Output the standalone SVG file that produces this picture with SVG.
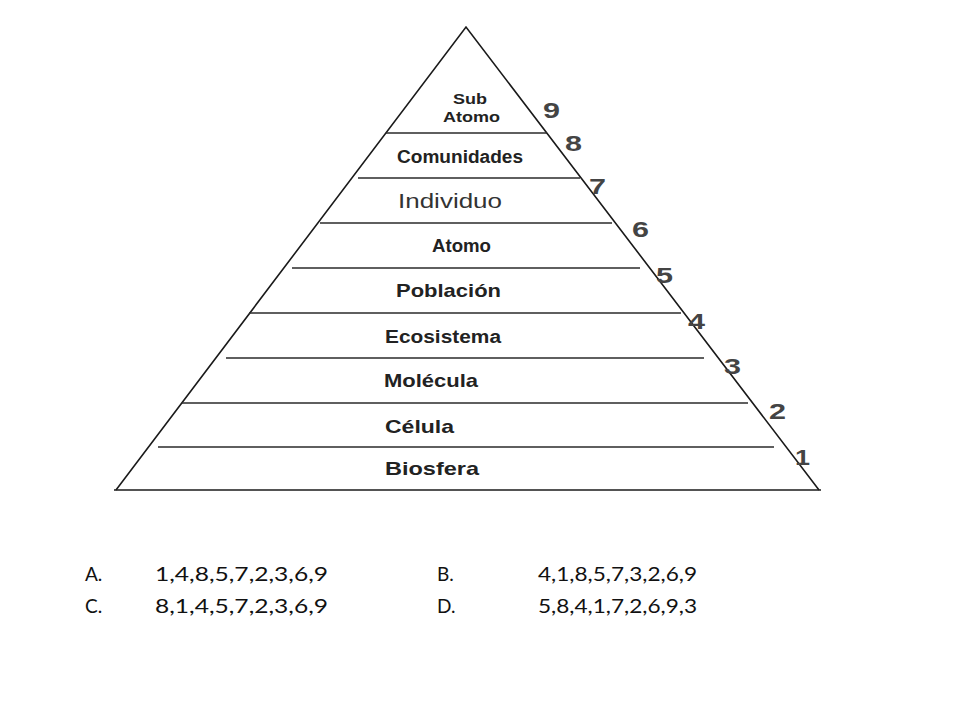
<svg xmlns="http://www.w3.org/2000/svg" width="960" height="720" viewBox="0 0 960 720">
<style>
.edge{stroke:#1a1a1a;stroke-width:1.6;fill:none}
.band{stroke:#2a2a2a;stroke-width:1.4}
.lbl{font-family:"Liberation Sans",Arial,sans-serif;font-weight:bold;fill:#222;text-anchor:start}
.num{font-family:"Liberation Sans",Arial,sans-serif;font-weight:bold;font-size:22px;fill:#444}
.ans{font-family:"Lato","Liberation Sans",sans-serif;font-size:19px;fill:#111}
</style>
<rect width="960" height="720" fill="#fff"/>
<g id="pyramid">
<polyline class="edge" points="116,490 466,27 819,490"/>
<line class="edge" x1="114" y1="490" x2="821" y2="490"/>
</g>
<g id="connectors">
<line class="band" x1="386" y1="133" x2="547" y2="133"/>
<line class="band" x1="358" y1="178" x2="580" y2="178"/>
<line class="band" x1="320" y1="223" x2="612" y2="223"/>
<line class="band" x1="292" y1="268" x2="640" y2="268"/>
<line class="band" x1="249" y1="313" x2="681" y2="313"/>
<line class="band" x1="226" y1="358" x2="704" y2="358"/>
<line class="band" x1="182" y1="403" x2="748" y2="403"/>
<line class="band" x1="158" y1="447" x2="774" y2="447"/>
</g>
<g id="n9"><text class="lbl" x="453" y="104" font-size="15" textLength="34" lengthAdjust="spacingAndGlyphs">Sub</text><text class="lbl" x="443" y="122" font-size="15" textLength="57" lengthAdjust="spacingAndGlyphs">Atomo</text></g>
<g id="n8"><text class="lbl" x="397" y="163" font-size="18" textLength="126" lengthAdjust="spacingAndGlyphs">Comunidades</text></g>
<g id="n7"><text class="lbl" x="398" y="208" font-size="21" style="font-weight:normal;fill:#333" textLength="104" lengthAdjust="spacingAndGlyphs">Individuo</text></g>
<g id="n6"><text class="lbl" x="432" y="252" font-size="18" textLength="59" lengthAdjust="spacingAndGlyphs">Atomo</text></g>
<g id="n5"><text class="lbl" x="396" y="297" font-size="19" textLength="105" lengthAdjust="spacingAndGlyphs">Población</text></g>
<g id="n4"><text class="lbl" x="385" y="343" font-size="18" textLength="116" lengthAdjust="spacingAndGlyphs">Ecosistema</text></g>
<g id="n3"><text class="lbl" x="384" y="387" font-size="19" textLength="94" lengthAdjust="spacingAndGlyphs">Molécula</text></g>
<g id="n2"><text class="lbl" x="385" y="433" font-size="19" textLength="69" lengthAdjust="spacingAndGlyphs">Célula</text></g>
<g id="n1"><text class="lbl" x="385" y="475" font-size="19" textLength="94" lengthAdjust="spacingAndGlyphs">Biosfera</text></g>
<g id="numbers">
<text class="num" x="543" y="118" textLength="17" lengthAdjust="spacingAndGlyphs">9</text>
<text class="num" x="565" y="151" textLength="17" lengthAdjust="spacingAndGlyphs">8</text>
<text class="num" x="589" y="194" textLength="17" lengthAdjust="spacingAndGlyphs">7</text>
<text class="num" x="632" y="237" textLength="17" lengthAdjust="spacingAndGlyphs">6</text>
<text class="num" x="656" y="283" textLength="17" lengthAdjust="spacingAndGlyphs">5</text>
<text class="num" x="688" y="329" textLength="17" lengthAdjust="spacingAndGlyphs">4</text>
<text class="num" x="724" y="374" textLength="17" lengthAdjust="spacingAndGlyphs">3</text>
<text class="num" x="769" y="419" textLength="17" lengthAdjust="spacingAndGlyphs">2</text>
<text class="num" x="795" y="465" textLength="15" lengthAdjust="spacingAndGlyphs">1</text>
</g>
<g id="answers">
<text class="ans" x="85" y="581">A.</text>
<text class="ans" x="155" y="581" textLength="173" lengthAdjust="spacingAndGlyphs">1,4,8,5,7,2,3,6,9</text>
<text class="ans" x="437" y="581">B.</text>
<text class="ans" x="538" y="581" textLength="159" lengthAdjust="spacingAndGlyphs">4,1,8,5,7,3,2,6,9</text>
<text class="ans" x="85" y="613">C.</text>
<text class="ans" x="155" y="613" textLength="173" lengthAdjust="spacingAndGlyphs">8,1,4,5,7,2,3,6,9</text>
<text class="ans" x="437" y="613">D.</text>
<text class="ans" x="538" y="613" textLength="159" lengthAdjust="spacingAndGlyphs">5,8,4,1,7,2,6,9,3</text>
</g>
</svg>
